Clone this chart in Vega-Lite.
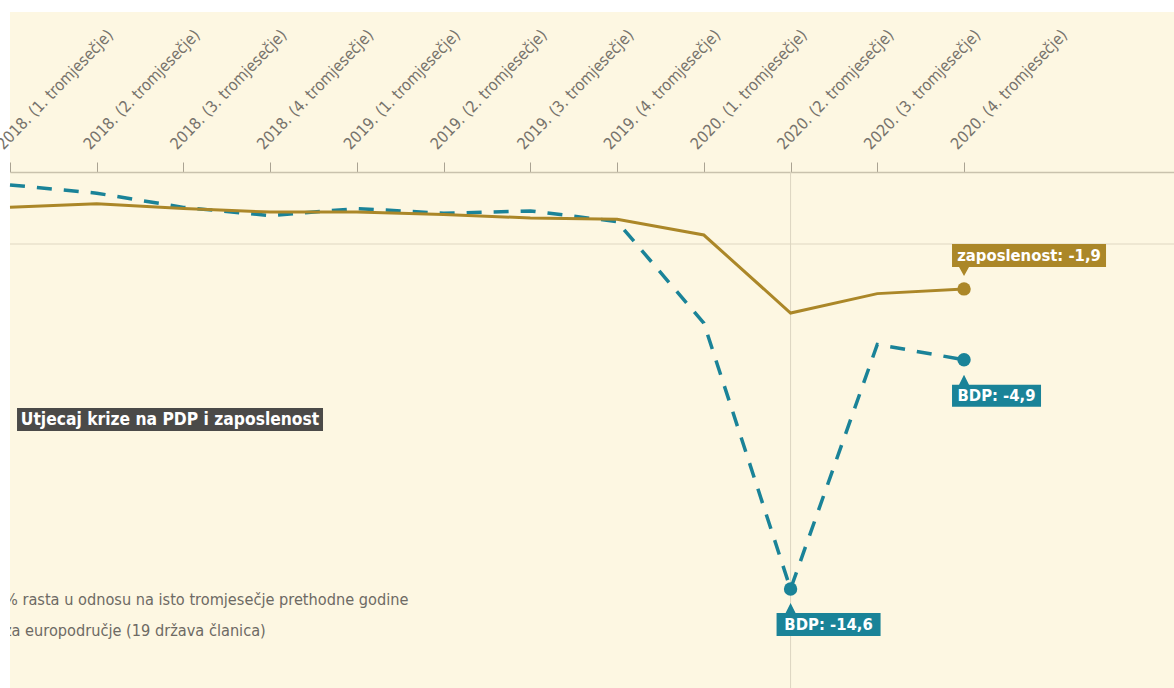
{
  "$schema": "https://vega.github.io/schema/vega-lite/v6.json",
  "width": 1164,
  "height": 676,
  "autosize": {"type": "none"},
  "padding": {"left": 10, "top": 12, "right": 0, "bottom": 0},
  "background": "white",
  "config": {
    "view": {"fill": "#fdf7e2", "stroke": null},
    "font": "DejaVu Sans Condensed, Roboto, sans-serif"
  },
  "datasets": {
    "serije": [
      {"i": 0, "kvartal": "2018. (1. tromjesečje)", "serija": "BDP", "v": 2.5},
      {"i": 1, "kvartal": "2018. (2. tromjesečje)", "serija": "BDP", "v": 2.15},
      {"i": 2, "kvartal": "2018. (3. tromjesečje)", "serija": "BDP", "v": 1.55},
      {"i": 3, "kvartal": "2018. (4. tromjesečje)", "serija": "BDP", "v": 1.2},
      {"i": 4, "kvartal": "2019. (1. tromjesečje)", "serija": "BDP", "v": 1.5},
      {"i": 5, "kvartal": "2019. (2. tromjesečje)", "serija": "BDP", "v": 1.3},
      {"i": 6, "kvartal": "2019. (3. tromjesečje)", "serija": "BDP", "v": 1.4},
      {"i": 7, "kvartal": "2019. (4. tromjesečje)", "serija": "BDP", "v": 0.95},
      {"i": 8, "kvartal": "2020. (1. tromjesečje)", "serija": "BDP", "v": -3.35},
      {"i": 9, "kvartal": "2020. (2. tromjesečje)", "serija": "BDP", "v": -14.6},
      {"i": 10, "kvartal": "2020. (3. tromjesečje)", "serija": "BDP", "v": -4.25},
      {"i": 11, "kvartal": "2020. (4. tromjesečje)", "serija": "BDP", "v": -4.9},
      {"i": 0, "kvartal": "2018. (1. tromjesečje)", "serija": "zaposlenost", "v": 1.55},
      {"i": 1, "kvartal": "2018. (2. tromjesečje)", "serija": "zaposlenost", "v": 1.7},
      {"i": 2, "kvartal": "2018. (3. tromjesečje)", "serija": "zaposlenost", "v": 1.5},
      {"i": 3, "kvartal": "2018. (4. tromjesečje)", "serija": "zaposlenost", "v": 1.35},
      {"i": 4, "kvartal": "2019. (1. tromjesečje)", "serija": "zaposlenost", "v": 1.35},
      {"i": 5, "kvartal": "2019. (2. tromjesečje)", "serija": "zaposlenost", "v": 1.25},
      {"i": 6, "kvartal": "2019. (3. tromjesečje)", "serija": "zaposlenost", "v": 1.1},
      {"i": 7, "kvartal": "2019. (4. tromjesečje)", "serija": "zaposlenost", "v": 1.05},
      {"i": 8, "kvartal": "2020. (1. tromjesečje)", "serija": "zaposlenost", "v": 0.38},
      {"i": 9, "kvartal": "2020. (2. tromjesečje)", "serija": "zaposlenost", "v": -2.92},
      {"i": 10, "kvartal": "2020. (3. tromjesečje)", "serija": "zaposlenost", "v": -2.1},
      {"i": 11, "kvartal": "2020. (4. tromjesečje)", "serija": "zaposlenost", "v": -1.9}
    ],
    "oznake": [
      {"id": "zap", "i": 11, "serija": "zaposlenost", "v": -1.9, "tekst": "zaposlenost: -1,9"},
      {"id": "bdp4", "i": 11, "serija": "BDP", "v": -4.9, "tekst": "BDP: -4,9"},
      {"id": "bdp2", "i": 9, "serija": "BDP", "v": -14.6, "tekst": "BDP: -14,6"}
    ],
    "naslov": [
      {"tekst": "Utjecaj krize na PDP i zaposlenost"}
    ],
    "opis": [
      {"red": 1, "tekst": "% rasta u odnosu na isto tromjesečje prethodne godine"},
      {"red": 2, "tekst": "za europodručje (19 država članica)"}
    ]
  },
  "encoding": {
    "x": {
      "type": "quantitative",
      "scale": {"domain": [0, 13.421], "nice": false, "zero": false},
      "axis": {
        "orient": "top",
        "offset": -160,
        "title": null,
        "grid": false,
        "values": [0, 1, 2, 3, 4, 5, 6, 7, 8, 9, 10, 11],
        "labelExpr": "['2018. (1. tromjesečje)','2018. (2. tromjesečje)','2018. (3. tromjesečje)','2018. (4. tromjesečje)','2019. (1. tromjesečje)','2019. (2. tromjesečje)','2019. (3. tromjesečje)','2019. (4. tromjesečje)','2020. (1. tromjesečje)','2020. (2. tromjesečje)','2020. (3. tromjesečje)','2020. (4. tromjesečje)'][datum.value]",
        "domainColor": "#c9c2ad",
        "domainWidth": 1.5,
        "tickColor": "#aaa392",
        "tickSize": 10,
        "tickWidth": 1,
        "labelFont": "DejaVu Sans Condensed, Roboto, sans-serif",
        "labelFontSize": 16,
        "labelColor": "#77736c",
        "labelAngle": -46,
        "labelAlign": "left",
        "labelBaseline": "alphabetic",
        "labelPadding": 12,
        "labelOffset": -7,
        "labelOverlap": false,
        "labelBound": false,
        "labelFlush": false
      }
    },
    "y": {
      "type": "quantitative",
      "scale": {"domain": [-18.79, 9.818], "nice": false, "zero": false},
      "axis": null
    }
  },
  "layer": [
    {
      "data": {"name": "naslov"},
      "mark": {"type": "rule", "color": "#e9e2cd", "strokeWidth": 1.5},
      "encoding": {"y": {"datum": 0}}
    },
    {
      "data": {"name": "naslov"},
      "mark": {"type": "rule", "color": "#dcd5c1", "strokeWidth": 1},
      "encoding": {"x": {"datum": 9}, "y": {"datum": 3.05}, "y2": {"datum": -18.79}}
    },
    {
      "data": {"name": "serije"},
      "transform": [{"filter": "datum.serija === 'BDP'"}],
      "mark": {"type": "line", "color": "#1a8398", "strokeWidth": 3.5, "strokeDash": [15, 12], "strokeCap": "butt"},
      "encoding": {"x": {"field": "i"}, "y": {"field": "v"}}
    },
    {
      "data": {"name": "serije"},
      "transform": [{"filter": "datum.serija === 'zaposlenost'"}],
      "mark": {"type": "line", "color": "#ab8728", "strokeWidth": 3},
      "encoding": {"x": {"field": "i"}, "y": {"field": "v"}}
    },
    {
      "data": {"name": "oznake"},
      "mark": {"type": "point", "shape": "circle", "filled": true, "opacity": 1, "size": 180},
      "encoding": {
        "x": {"field": "i"},
        "y": {"field": "v"},
        "color": {"field": "serija", "type": "nominal", "scale": {"domain": ["BDP", "zaposlenost"], "range": ["#1a8398", "#ab8728"]}, "legend": null}
      }
    },
    {
      "data": {"name": "oznake"},
      "transform": [{"filter": "datum.id === 'zap'"}],
      "mark": {"type": "point", "filled": true, "opacity": 1, "size": 40000, "strokeWidth": 0, "color": "#ab8728",
        "shape": "M-0.12,-0.45L1.42,-0.45L1.42,-0.22L0.05,-0.22L0,-0.13L-0.05,-0.22L-0.12,-0.22Z"},
      "encoding": {"x": {"field": "i"}, "y": {"field": "v"}}
    },
    {
      "data": {"name": "oznake"},
      "transform": [{"filter": "datum.id === 'zap'"}],
      "mark": {"type": "text", "color": "white", "fontWeight": "bold", "fontSize": 16.5, "align": "center", "baseline": "middle", "dx": 65, "dy": -33},
      "encoding": {"x": {"field": "i"}, "y": {"field": "v"}, "text": {"field": "tekst"}}
    },
    {
      "data": {"name": "oznake"},
      "transform": [{"filter": "datum.id === 'bdp4'"}],
      "mark": {"type": "point", "filled": true, "opacity": 1, "size": 40000, "strokeWidth": 0, "color": "#1a8398",
        "shape": "M-0.12,0.25L-0.05,0.25L0,0.15L0.05,0.25L0.77,0.25L0.77,0.47L-0.12,0.47Z"},
      "encoding": {"x": {"field": "i"}, "y": {"field": "v"}}
    },
    {
      "data": {"name": "oznake"},
      "transform": [{"filter": "datum.id === 'bdp4'"}],
      "mark": {"type": "text", "color": "white", "fontWeight": "bold", "fontSize": 16.5, "align": "center", "baseline": "middle", "dx": 32.5, "dy": 36.5},
      "encoding": {"x": {"field": "i"}, "y": {"field": "v"}, "text": {"field": "tekst"}}
    },
    {
      "data": {"name": "oznake"},
      "transform": [{"filter": "datum.id === 'bdp2'"}],
      "mark": {"type": "point", "filled": true, "opacity": 1, "size": 40000, "strokeWidth": 0, "color": "#1a8398",
        "shape": "M-0.14,0.24L-0.05,0.24L0,0.14L0.05,0.24L0.9,0.24L0.9,0.47L-0.14,0.47Z"},
      "encoding": {"x": {"field": "i"}, "y": {"field": "v"}}
    },
    {
      "data": {"name": "oznake"},
      "transform": [{"filter": "datum.id === 'bdp2'"}],
      "mark": {"type": "text", "color": "white", "fontWeight": "bold", "fontSize": 16.5, "align": "center", "baseline": "middle", "dx": 38, "dy": 36},
      "encoding": {"x": {"field": "i"}, "y": {"field": "v"}, "text": {"field": "tekst"}}
    },
    {
      "data": {"name": "naslov"},
      "mark": {"type": "rect", "color": "#4b4a48"},
      "encoding": {"x": {"datum": 0.081}, "x2": {"datum": 3.609}, "y": {"datum": -6.94}, "y2": {"datum": -7.91}}
    },
    {
      "data": {"name": "naslov"},
      "mark": {"type": "text", "color": "white", "fontWeight": "bold", "fontSize": 17.3, "align": "center", "baseline": "middle"},
      "encoding": {"x": {"datum": 1.845}, "y": {"datum": -7.43}, "text": {"field": "tekst"}}
    },
    {
      "data": {"name": "opis"},
      "transform": [{"filter": "datum.red === 1"}],
      "mark": {"type": "text", "color": "#6d6a64", "fontSize": 16.2, "align": "left", "baseline": "middle", "clip": true},
      "encoding": {"x": {"datum": -0.07}, "y": {"datum": -15.07}, "text": {"field": "tekst"}}
    },
    {
      "data": {"name": "opis"},
      "transform": [{"filter": "datum.red === 2"}],
      "mark": {"type": "text", "color": "#6d6a64", "fontSize": 16.2, "align": "left", "baseline": "middle", "clip": true},
      "encoding": {"x": {"datum": -0.07}, "y": {"datum": -16.38}, "text": {"field": "tekst"}}
    }
  ]
}
